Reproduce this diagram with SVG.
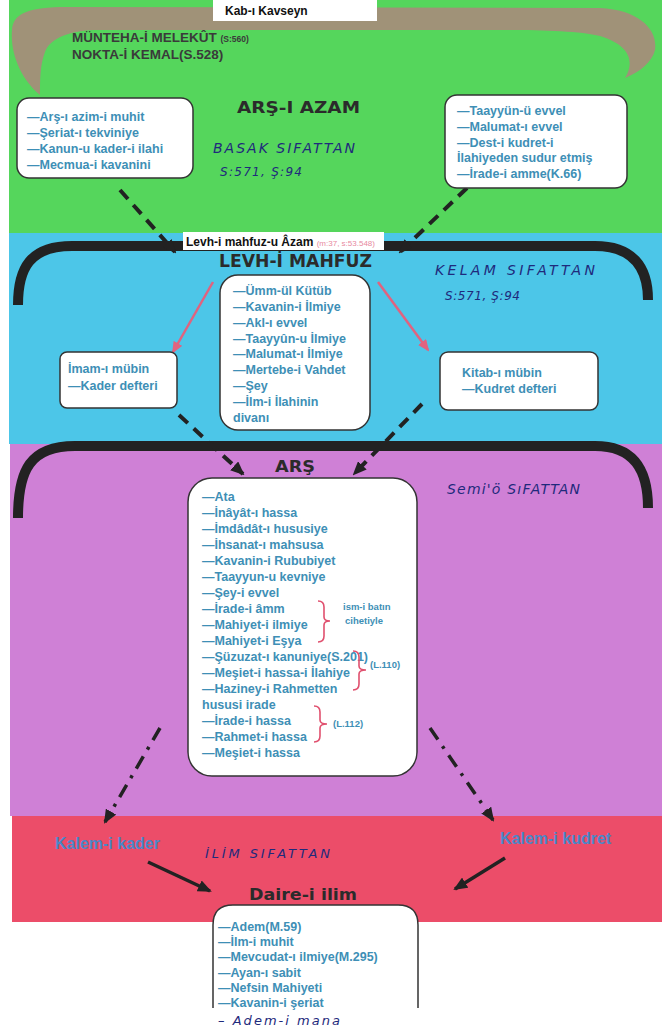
<svg xmlns="http://www.w3.org/2000/svg" width="662" height="1034" viewBox="0 0 662 1034">
<defs>
<style>
.t{font-family:"Liberation Sans",Arial,sans-serif;font-weight:bold;font-size:12.5px;fill:#3e8fb6}
.h{font-family:"DejaVu Sans",sans-serif;font-weight:bold;fill:#2b2b2b}
.hw{font-family:"DejaVu Sans",sans-serif;font-style:italic;fill:#1f2a7c}
.box{fill:#fff;stroke:#333;stroke-width:1.5}
.arc{fill:none;stroke:#222;stroke-width:10}
.dash{fill:none;stroke:#222;stroke-width:4;stroke-dasharray:12 8}
.dd{fill:none;stroke:#222;stroke-width:3.5;stroke-dasharray:14 8 3 8}
.solid{fill:none;stroke:#222;stroke-width:3.5}
.pink{fill:none;stroke:#e0637f;stroke-width:2.5}
.brace{fill:none;stroke:#e0506e;stroke-width:1.6}
.sm{font-family:"Liberation Sans",Arial,sans-serif;font-weight:bold;font-size:9.5px;fill:#3e8fb6}
.kal{font-family:"Liberation Sans",Arial,sans-serif;font-weight:bold;font-size:16px;fill:#4a87c8}
</style>
<marker id="ah" markerUnits="userSpaceOnUse" markerWidth="14" markerHeight="12" refX="12" refY="6" orient="auto"><path d="M0,0 L14,6 L0,12 z" fill="#222"/></marker>
<marker id="ap" markerUnits="userSpaceOnUse" markerWidth="12" markerHeight="10" refX="10" refY="5" orient="auto"><path d="M0,0 L12,5 L0,10 z" fill="#e0637f"/></marker>
</defs>
<rect width="662" height="1034" fill="#fff"/>
<!-- bands -->
<rect x="9" y="0" width="653" height="233" fill="#55d65c"/>
<rect x="9" y="233" width="653" height="211" fill="#4cc6e8"/>
<rect x="10" y="444" width="652" height="372" fill="#cf80d6"/>
<rect x="12" y="816" width="650" height="106" fill="#ec4d69"/>
<!-- tan arc -->
<path d="M40,95 C22,80 10,55 12,30 C13,15 25,8 60,7 L600,8 C640,10 658,30 655,50 C652,62 640,72 625,78 C635,62 630,45 600,36 C580,31 540,30 500,30 L100,30 C70,30 50,38 45,52 C40,65 40,80 40,95 Z" fill="#a09278"/>
<!-- black arcs -->
<path class="arc" d="M18,305 C18,268 30,246 72,246 L595,246 C632,246 648,266 648,300"/>
<path class="arc" d="M18,518 C18,470 30,446 75,446 L595,446 C634,446 648,470 648,508"/>
<!-- top labels -->
<g id="kab">
<rect x="213" y="0" width="164" height="21" fill="#fff"/>
<text x="225" y="15" font-family="Liberation Sans,Arial,sans-serif" font-weight="bold" font-size="12" fill="#111">Kab-ı Kavseyn</text>
</g>
<g id="munteha" font-family="Liberation Sans,Arial,sans-serif" font-weight="bold" fill="#3a3a3a">
<text x="72" y="42" font-size="13.5">MÜNTEHA-İ MELEKÛT <tspan font-size="8.5">(S:560)</tspan></text>
<text x="72" y="59" font-size="13.5">NOKTA-İ KEMAL(S.528)</text>
</g>
<text id="arsiazam" class="h" x="237" y="113" font-size="16" textLength="123" lengthAdjust="spacingAndGlyphs">ARŞ-I AZAM</text>
<g id="hw1" class="hw">
<text x="213" y="153" font-size="14" textLength="142">BASAK SIFATTAN</text>
<text x="220" y="176" font-size="12" textLength="82">S:571, Ş:94</text>
</g>
<!-- connectors -->
<g id="connectors">
<path class="dash" d="M120,190 L175,252" marker-end="url(#ah)"/>
<path class="dash" d="M467,188 L400,252" marker-end="url(#ah)"/>
<path class="pink" d="M213,282 L173,352" marker-end="url(#ap)"/>
<path class="pink" d="M378,282 L428,350" marker-end="url(#ap)"/>
<path class="dash" d="M179,415 L243,474" marker-end="url(#ah)"/>
<path class="dash" d="M422,404 L354,474" marker-end="url(#ah)"/>
<path class="dd" d="M160,728 L105,822" marker-end="url(#ah)"/>
<path class="dd" d="M430,728 L493,820" marker-end="url(#ah)"/>
<path class="solid" d="M148,862 L210,891" marker-end="url(#ah)"/>
<path class="solid" d="M505,858 L455,889" marker-end="url(#ah)"/>
</g>
<!-- nodes -->
<g id="leftTop">
<rect class="box" x="17" y="98" width="176" height="80" rx="12"/>
<text class="t" x="27" y="121">—Arş-ı azim-i muhit</text>
<text class="t" x="27" y="137">—Şeriat-ı tekviniye</text>
<text class="t" x="27" y="153">—Kanun-u kader-i ilahi</text>
<text class="t" x="27" y="169">—Mecmua-i kavanini</text>
</g>
<g id="rightTop">
<rect class="box" x="445" y="95" width="182" height="93" rx="12"/>
<text class="t" x="457" y="115">—Taayyün-ü evvel</text>
<text class="t" x="457" y="131">—Malumat-ı evvel</text>
<text class="t" x="457" y="147">—Dest-i kudret-i</text>
<text class="t" x="457" y="162">İlahiyeden sudur etmiş</text>
<text class="t" x="457" y="178">—İrade-i amme(K.66)</text>
</g>
<g id="levhLabel">
<rect x="183" y="232" width="201" height="18" fill="#fff"/>
<text x="186" y="246" font-family="Liberation Sans,Arial,sans-serif" font-weight="bold" font-size="12" fill="#111">Levh-i mahfuz-u Âzam <tspan font-size="8" font-weight="normal" fill="#e88aa0">(m:37, s:53.548)</tspan></text>
</g>
<text id="levh" class="h" x="219" y="267" font-size="17" textLength="153" lengthAdjust="spacingAndGlyphs">LEVH-İ MAHFUZ</text>
<g id="hw2" class="hw">
<text x="435" y="275" font-size="14" textLength="160">KELAM SIFATTAN</text>
<text x="445" y="300" font-size="12" textLength="75">S:571, Ş:94</text>
</g>
<g id="levhBox">
<rect class="box" x="220" y="275" width="150" height="155" rx="18"/>
<text class="t" x="233" y="295">—Ümm-ül Kütüb</text>
<text class="t" x="233" y="311">—Kavanin-i İlmiye</text>
<text class="t" x="233" y="327">—Akl-ı evvel</text>
<text class="t" x="233" y="343">—Taayyûn-u İlmiye</text>
<text class="t" x="233" y="358">—Malumat-ı İlmiye</text>
<text class="t" x="233" y="374">—Mertebe-i Vahdet</text>
<text class="t" x="233" y="390">—Şey</text>
<text class="t" x="233" y="406">—İlm-i İlahinin</text>
<text class="t" x="233" y="422">divanı</text>
</g>
<g id="imam">
<rect class="box" x="60" y="352" width="117" height="56" rx="7"/>
<text class="t" x="68" y="373">İmam-ı mübin</text>
<text class="t" x="68" y="390">—Kader defteri</text>
</g>
<g id="kitab">
<rect class="box" x="440" y="352" width="158" height="58" rx="8"/>
<text class="t" x="462" y="377">Kitab-ı mübin</text>
<text class="t" x="462" y="393">—Kudret defteri</text>
</g>
<text id="ars" class="h" x="275" y="472" font-size="15" textLength="40" lengthAdjust="spacingAndGlyphs">ARŞ</text>
<text id="hw3" class="hw" x="447" y="494" font-size="14" fill="#2c3f9a" textLength="133">Semi'ö SıFATTAN</text>
<g id="arsBox">
<rect class="box" x="188" y="478" width="229" height="298" rx="24"/>
<text class="t" x="202" y="501">—Ata</text>
<text class="t" x="202" y="517">—İnâyât-ı hassa</text>
<text class="t" x="202" y="533">—İmdâdât-ı hususiye</text>
<text class="t" x="202" y="549">—İhsanat-ı mahsusa</text>
<text class="t" x="202" y="565">—Kavanin-i Rububiyet</text>
<text class="t" x="202" y="581">—Taayyun-u kevniye</text>
<text class="t" x="202" y="597">—Şey-i evvel</text>
<text class="t" x="202" y="613">—İrade-i âmm</text>
<text class="t" x="202" y="629">—Mahiyet-i ilmiye</text>
<text class="t" x="202" y="645">—Mahiyet-i Eşya</text>
<text class="t" x="202" y="661">—Şüzuzat-ı kanuniye(S.201)</text>
<text class="t" x="202" y="677">—Meşiet-i hassa-i İlahiye</text>
<text class="t" x="202" y="693">—Haziney-i Rahmetten</text>
<text class="t" x="202" y="709">hususi irade</text>
<text class="t" x="202" y="725">—İrade-i hassa</text>
<text class="t" x="202" y="741">—Rahmet-i hassa</text>
<text class="t" x="202" y="757">—Meşiet-i hassa</text>
<path class="brace" d="M318,601 Q324,601 324,607 V617 Q324,621 330,621 Q324,621 324,625 V636 Q324,642 318,642"/>
<text class="sm" x="343" y="610">ism-i batın</text>
<text class="sm" x="345" y="624">cihetiyle</text>
<path class="brace" d="M353,651 Q359,651 359,657 V666 Q359,670 366,670 Q359,670 359,674 V684 Q359,690 353,690"/>
<text class="sm" x="370" y="668">(L.110)</text>
<path class="brace" d="M314,706 Q320,706 320,712 V720 Q320,724 327,724 Q320,724 320,728 V736 Q320,742 314,742"/>
<text class="sm" x="333" y="727">(L.112)</text>
</g>
<text id="kalemKader" class="kal" x="55" y="849">Kalem-i kader</text>
<text id="kalemKudret" class="kal" x="500" y="844">Kalem-i kudret</text>
<text id="hw4" class="hw" x="205" y="858" font-size="13" textLength="125">İLİM SIFATTAN</text>
<text id="daire" class="h" x="249" y="900" font-size="16" textLength="108" lengthAdjust="spacingAndGlyphs">Daire-i ilim</text>
<g id="daireBox">
<path class="box" d="M213,1008 V925 Q213,905 233,905 H398 Q418,905 418,925 V1008"/>
<text class="t" x="218" y="931">—Adem(M.59)</text>
<text class="t" x="218" y="946">—İlm-i muhit</text>
<text class="t" x="218" y="961">—Mevcudat-ı ilmiye(M.295)</text>
<text class="t" x="218" y="977">—Ayan-ı sabit</text>
<text class="t" x="218" y="992">—Nefsin Mahiyeti</text>
<text class="t" x="218" y="1007">—Kavanin-i şeriat</text>
<text class="hw" x="218" y="1025" font-size="13" textLength="122">– Adem-i mana</text>
</g>
</svg>
